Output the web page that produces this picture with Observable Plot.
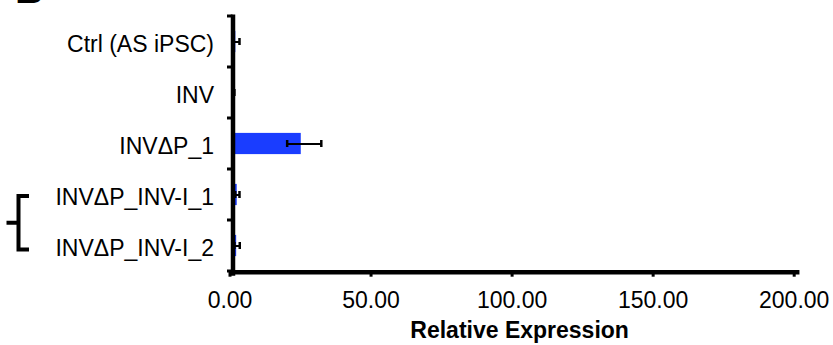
<!DOCTYPE html>
<html><head><meta charset="utf-8">
<script src="https://cdn.jsdelivr.net/npm/d3@7"></script>
<script src="https://cdn.jsdelivr.net/npm/@observablehq/plot@0.6"></script>
<style>
html,body{margin:0;padding:0;background:#fff;}
#wrap{position:relative;width:833px;height:345px;overflow:hidden;font-family:"Liberation Sans",Arial,Helvetica,sans-serif;}
#panel{position:absolute;left:15px;top:-30.6px;font-weight:bold;font-size:40px;line-height:40px;}
#chart{position:absolute;left:0;top:0;}
</style></head><body>
<div id="wrap"><div id="chart"></div><div id="panel">B</div></div>
<script>
const categories = ["Ctrl (AS iPSC)", "INV", "INVΔP_1", "INVΔP_INV-I_1", "INVΔP_INV-I_2"];
const values = [1.0, 0.2, 24.2, 1.5, 1.3];
const errLow = [0.0, 0.0, 19.2, 0.8, 0.5];
const errHigh = [2.3, 0.5, 31.3, 2.3, 2.4];
const xTicks = [0, 50, 100, 150, 200];
const xLabel = "Relative Expression";
const bracketGroup = ["INVΔP_INV-I_1", "INVΔP_INV-I_2"];

const data = categories.map((c, i) => ({cat: c, value: values[i], lo: errLow[i], hi: errHigh[i]}));
const font = '"Liberation Sans", Arial, Helvetica, sans-serif';

const plot = Plot.plot({
  width: 833,
  height: 345,
  marginLeft: 232.5,
  marginRight: 36.3,
  marginTop: 14.5,
  marginBottom: 73.3,
  style: {fontFamily: font, fontSize: "23px", color: "#000", background: "transparent", overflow: "visible"},
  x: {domain: [0, 200]},
  y: {domain: categories, padding: 0},
  marks: [
    Plot.barX(data, {y: "cat", x: "value", fill: "#1a3dff", insetTop: 14.9, insetBottom: 14.9}),
    Plot.ruleY(data, {y: "cat", x1: "lo", x2: "hi", stroke: "#000", strokeWidth: 2}),
    Plot.tickX(data, {y: "cat", x: "hi", stroke: "#000", strokeWidth: 2.5, insetTop: 22, insetBottom: 22}),
    Plot.tickX(data.filter(d => d.lo > 0), {y: "cat", x: "lo", stroke: "#000", strokeWidth: 2.5, insetTop: 22, insetBottom: 22}),
    Plot.axisY({tickSize: 0, tickPadding: 19, dy: 3, label: null, fontSize: 23}),
    Plot.axisX(xTicks, {tickFormat: d => d.toFixed(2), tickSize: 5, tickPadding: 14, strokeWidth: 3, dx: -3, label: null, fontSize: 23}),
    Plot.ruleX([0], {stroke: "#000", strokeWidth: 4.5, insetBottom: -4}),
    Plot.frame({anchor: "bottom", stroke: "#000", strokeWidth: 4.5}),
    Plot.text([xLabel], {frameAnchor: "bottom", dx: 4.5, dy: 66, lineAnchor: "bottom", fontWeight: "bold", fontSize: 23, fill: "#000"})
  ]
});

// y-axis ticks at band boundaries and the bracket, positioned via Plot's y scale
const ys = plot.scale("y");
const bw = ys.bandwidth;
const svg = d3.select(plot);
const xs = plot.scale("x");
const x0 = xs.apply(0);
const bounds = categories.map(c => ys.apply(c)).concat([ys.apply(categories[categories.length - 1]) + bw]);
const g = svg.append("g").attr("stroke", "#000").attr("stroke-width", 3);
bounds.forEach(b => g.append("line").attr("x1", x0 - 5.5).attr("x2", x0).attr("y1", b).attr("y2", b));

const yTop = ys.apply(bracketGroup[0]) + bw / 2 + 1.5;
const yBot = ys.apply(bracketGroup[1]) + bw / 2 + 4;
const yMid = (yTop + yBot) / 2;
svg.append("path")
  .attr("d", `M29,${yTop} H18.5 V${yBot} H29 M18.5,${yMid} H6.5`)
  .attr("fill", "none").attr("stroke", "#000").attr("stroke-width", 4);

document.getElementById("chart").appendChild(plot);
</script>
</body></html>
